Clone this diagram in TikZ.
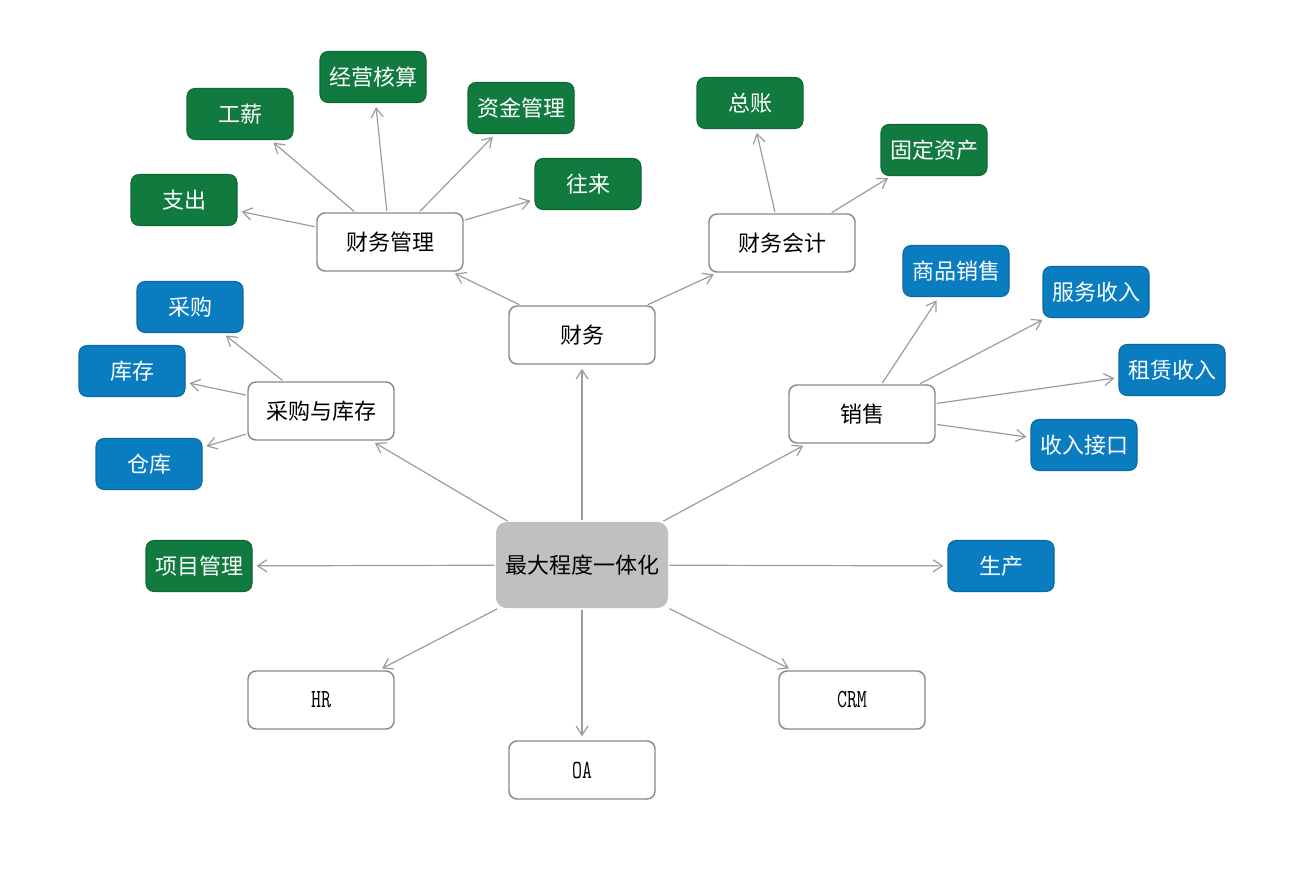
\documentclass[tikz,border=0pt]{standalone}
\usepackage{fontspec}
\setmainfont{Noto Sans CJK SC}
\usetikzlibrary{arrows.meta}
\definecolor{gbox}{HTML}{117A3E}
\definecolor{bbox}{HTML}{0A7CC0}
\definecolor{cbox}{HTML}{C0C0C0}
\definecolor{edgec}{HTML}{9C9C9C}
\definecolor{bordc}{HTML}{8A8A8A}
\tikzset{
  basebox/.style={rounded corners=6pt, inner sep=0pt, font=\fontsize{16.5}{18}\selectfont},
  wbox/.style={basebox, draw=bordc, line width=1.1pt, fill=white, minimum width=109.5pt, minimum height=43.5pt},
  gnode/.style={basebox, draw=gbox!85!black, line width=0.8pt, fill=gbox, text=white, minimum width=79.5pt, minimum height=38.25pt},
  bnode/.style={basebox, draw=bbox!85!black, line width=0.8pt, fill=bbox, text=white, minimum width=79.5pt, minimum height=38.25pt},
  cnode/.style={basebox, fill=cbox, minimum width=129pt, minimum height=64.5pt, rounded corners=8pt},
  conn/.style={draw=edgec, line width=0.9pt, -{Straight Barb[length=7pt,width=9pt]}, shorten >=3pt, shorten <=1pt},
  latin/.style={font=\fontsize{14.5}{16}\ttfamily}
}
\begin{document}
\begin{tikzpicture}[x=0.75pt,y=-0.75pt]
\useasboundingbox[fill=white] (0,0) rectangle (1300,880);
% main nodes
\node[cnode] (c) at (582,565) {最大程度一体化};
\node[wbox] (cw) at (582,335) {财务};
\node[wbox] (cwgl) at (390,242) {财务管理};
\node[wbox] (cwkj) at (782,243) {财务会计};
\node[wbox] (cgkc) at (321,411) {采购与库存};
\node[wbox] (xs) at (862,414) {销售};
\node[wbox,latin] (hr) at (321,700) {\scalebox{1}[1.35]{HR}};
\node[wbox,latin] (oa) at (582,770) {\scalebox{1}[1.35]{OA}};
\node[wbox,latin] (crm) at (852,700) {\scalebox{1}[1.35]{CRM}};
% green
\node[gnode] (xmgl) at (199,566) {项目管理};
\node[gnode] (zc) at (184,200) {支出};
\node[gnode] (gx) at (240,114) {工薪};
\node[gnode] (jyhs) at (373,77) {经营核算};
\node[gnode] (zjgl) at (521,108) {资金管理};
\node[gnode] (wl) at (588,184) {往来};
\node[gnode] (zz) at (750,103) {总账};
\node[gnode] (gdzc) at (934,150) {固定资产};
% blue
\node[bnode] (sc) at (1001,566) {生产};
\node[bnode] (cg) at (190,307) {采购};
\node[bnode] (kc) at (132,371) {库存};
\node[bnode] (ck) at (149,464) {仓库};
\node[bnode] (spxs) at (956,271) {商品销售};
\node[bnode] (fwsr) at (1096,292) {服务收入};
\node[bnode] (zlsr) at (1172,370) {租赁收入};
\node[bnode] (srjk) at (1084,445) {收入接口};
% connectors
\foreach \a/\b in {c/cw, c/cgkc, c/xs, c/hr, c/oa, c/crm, c/xmgl, c/sc,
  cw/cwgl, cw/cwkj,
  cwgl/zc, cwgl/gx, cwgl/jyhs, cwgl/zjgl, cwgl/wl,
  cwkj/zz, cwkj/gdzc,
  cgkc/cg, cgkc/kc, cgkc/ck,
  xs/spxs, xs/fwsr, xs/zlsr, xs/srjk}
  \draw[conn] (\a) -- (\b);
\end{tikzpicture}
\end{document}
